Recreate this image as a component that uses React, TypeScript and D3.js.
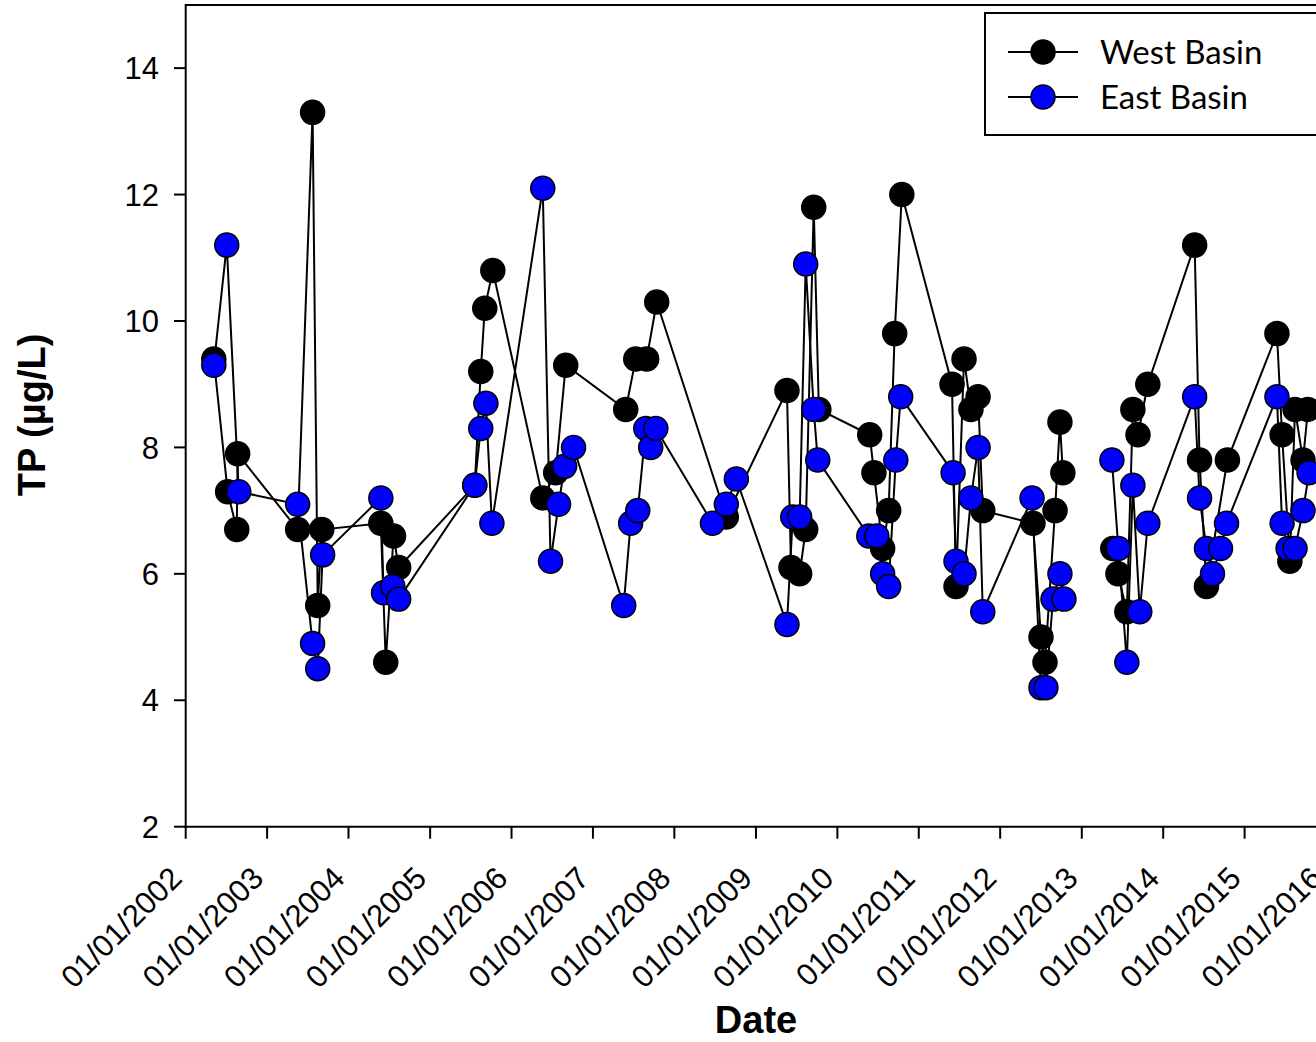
import { useRef, useEffect } from "react";
import * as d3 from "d3";

const westDates = [
  "2002-05-07", "2002-07-08", "2002-08-18", "2002-08-22",
  "2003-05-18", "2003-07-24", "2003-08-16", "2003-09-03",
  "2004-05-25", "2004-06-16", "2004-07-21", "2004-08-13",
  "2005-07-20", "2005-08-16", "2005-09-03", "2005-10-09",
  "2006-05-21", "2006-07-18", "2006-09-01",
  "2007-05-28", "2007-07-12", "2007-08-30", "2007-10-14",
  "2008-08-21",
  "2009-05-20", "2009-06-07", "2009-07-16", "2009-08-12", "2009-09-17", "2009-10-10",
  "2010-05-26", "2010-06-14", "2010-07-23", "2010-08-19", "2010-09-15", "2010-10-17",
  "2011-05-30", "2011-06-17", "2011-07-23", "2011-08-23", "2011-09-24", "2011-10-15",
  "2012-05-27", "2012-07-02", "2012-07-20", "2012-09-03", "2012-09-25", "2012-10-08",
  "2013-01-01",
  "2013-05-20", "2013-06-12", "2013-07-22", "2013-08-18", "2013-09-10", "2013-10-24",
  "2014-05-22", "2014-06-13", "2014-07-14", "2014-10-16",
  "2015-05-26", "2015-06-18", "2015-07-23", "2015-08-15", "2015-09-20", "2015-10-12",
];
const westValues = [
  9.4, 7.3, 6.7, 7.9,
  6.7, 13.3, 5.5, 6.7,
  6.8, 4.6, 6.6, 6.1,
  7.4, 9.2, 10.2, 10.8,
  7.2, 7.6, 9.3,
  8.6, 9.4, 9.4, 10.3,
  6.9,
  8.9, 6.1, 6.0, 6.7, 11.8, 8.6,
  8.2, 7.6, 6.4, 7.0, 9.8, 12.0,
  9.0, 5.8, 9.4, 8.6, 8.8, 7.0,
  6.8, 5.0, 4.6, 7.0, 8.4, 7.6,
  null,
  6.4, 6.0, 5.4, 8.6, 8.2, 9.0,
  11.2, 7.8, 5.8, 7.8,
  9.8, 8.2, 6.2, 8.6, 7.8, 8.6,
];

const eastDates = [
  "2002-05-07", "2002-07-04", "2002-08-27",
  "2003-05-18", "2003-07-24", "2003-08-16", "2003-09-07",
  "2004-05-25", "2004-06-06", "2004-07-18", "2004-08-13",
  "2005-07-20", "2005-08-16", "2005-09-08", "2005-10-05",
  "2006-05-21", "2006-06-25", "2006-07-31", "2006-08-27", "2006-10-06",
  "2007-05-19", "2007-06-19", "2007-07-21", "2007-08-26", "2007-09-17", "2007-10-10",
  "2008-06-20", "2008-08-21", "2008-10-05",
  "2009-05-20", "2009-06-15", "2009-07-16", "2009-08-12", "2009-09-17", "2009-10-05",
  "2010-05-22", "2010-06-27", "2010-07-23", "2010-08-19", "2010-09-20", "2010-10-12",
  "2011-06-04", "2011-06-17", "2011-07-23", "2011-08-23", "2011-09-24", "2011-10-15",
  "2012-05-23", "2012-07-02", "2012-07-24", "2012-08-25", "2012-09-25", "2012-10-13",
  "2013-01-01",
  "2013-05-16", "2013-06-14", "2013-07-22", "2013-08-18", "2013-09-18", "2013-10-24",
  "2014-05-22", "2014-06-13", "2014-07-14", "2014-08-10", "2014-09-15", "2014-10-12",
  "2015-05-26", "2015-06-18", "2015-07-15", "2015-08-15", "2015-09-20", "2015-10-17",
];
const eastValues = [
  9.3, 11.2, 7.3,
  7.1, 4.9, 4.5, 6.3,
  7.2, 5.7, 5.8, 5.6,
  7.4, 8.3, 8.7, 6.8,
  12.1, 6.2, 7.1, 7.7, 8.0,
  5.5, 6.8, 7.0, 8.3, 8.0, 8.3,
  6.8, 7.1, 7.5,
  5.2, 6.9, 6.9, 10.9, 8.6, 7.8,
  6.6, 6.6, 6.0, 5.8, 7.8, 8.8,
  7.6, 6.2, 6.0, 7.2, 8.0, 5.4,
  7.2, 4.2, 4.2, 5.6, 6.0, 5.6,
  null,
  7.8, 6.4, 4.6, 7.4, 5.4, 6.8,
  8.8, 7.2, 6.4, 6.0, 6.4, 6.8,
  8.8, 6.8, 6.4, 6.4, 7.0, 7.6,
];

const yTicks = [2, 4, 6, 8, 10, 12, 14];
const xTickYears = [2002, 2003, 2004, 2005, 2006, 2007, 2008, 2009, 2010, 2011, 2012, 2013, 2014, 2015, 2016];

const SERIES = [
  { name: "West Basin", dates: westDates, values: westValues, fill: "#000000" },
  { name: "East Basin", dates: eastDates, values: eastValues, fill: "#0000ff" },
];

const W = 1316;
const H = 1042;
const AXIS_FONT = "'Liberation Sans', Arial, sans-serif";

export default function App() {
  const svgRef = useRef<SVGSVGElement | null>(null);

  useEffect(() => {
    const parse = d3.timeParse("%Y-%m-%d");
    const svg = d3.select(svgRef.current);
    svg.selectAll("*").remove();

    const x = d3
      .scaleTime()
      .domain([new Date(2002, 0, 1), new Date(2016, 0, 1)])
      .range([185.7, 1326]);
    const y = d3.scaleLinear().domain([2, 15]).range([826.7, 4.9]);

    const xEnd = x(new Date(2016, 6, 1));

    // frame
    svg
      .append("path")
      .attr("d", `M${xEnd},${y(15)}H${x.range()[0]}V${y(2)}H${xEnd}`)
      .attr("fill", "none")
      .attr("stroke", "#000")
      .attr("stroke-width", 2);

    // y axis ticks + labels
    const yg = svg.append("g").attr("font-family", AXIS_FONT).attr("font-size", 31);
    yTicks.forEach((t) => {
      yg.append("line")
        .attr("x1", 174).attr("x2", 186)
        .attr("y1", y(t)).attr("y2", y(t))
        .attr("stroke", "#000").attr("stroke-width", 2);
      yg.append("text")
        .attr("x", 159).attr("y", y(t))
        .attr("dy", "0.36em")
        .attr("text-anchor", "end")
        .text(t);
    });

    // x axis ticks + labels
    const xg = svg.append("g").attr("font-family", AXIS_FONT).attr("font-size", 31);
    xTickYears.forEach((yr) => {
      const px = x(new Date(yr, 0, 1));
      xg.append("line")
        .attr("x1", px).attr("x2", px)
        .attr("y1", y(2)).attr("y2", y(2) + 12)
        .attr("stroke", "#000").attr("stroke-width", 2);
      xg.append("text")
        .attr("transform", `translate(${px - 2},${880}) rotate(-45)`)
        .attr("text-anchor", "end")
        .text(`01/01/${yr}`);
    });

    // titles
    svg.append("text")
      .attr("x", 756).attr("y", 1033)
      .attr("text-anchor", "middle")
      .attr("font-family", AXIS_FONT).attr("font-weight", "bold").attr("font-size", 38)
      .text("Date");
    svg.append("text")
      .attr("transform", `translate(45,415) rotate(-90)`)
      .attr("text-anchor", "middle")
      .attr("font-family", AXIS_FONT).attr("font-weight", "bold").attr("font-size", 38)
      .text("TP (µg/L)");

    // series
    const line = d3
      .line<{ d: Date; v: number | null }>()
      .defined((p) => p.v != null)
      .x((p) => x(p.d))
      .y((p) => y(p.v as number));

    SERIES.forEach((s) => {
      const pts = s.dates.map((d, i) => ({ d: parse(d) as Date, v: s.values[i] }));
      const g = svg.append("g");
      g.append("path")
        .attr("d", line(pts))
        .attr("fill", "none")
        .attr("stroke", "#000")
        .attr("stroke-width", 2);
      g.selectAll("circle")
        .data(pts.filter((p) => p.v != null))
        .enter()
        .append("circle")
        .attr("cx", (p) => x(p.d))
        .attr("cy", (p) => y(p.v as number))
        .attr("r", 12)
        .attr("fill", s.fill)
        .attr("stroke", "#000")
        .attr("stroke-width", 1.5);
    });

    // legend
    const lg = svg.append("g");
    lg.append("rect")
      .attr("x", 985).attr("y", 13)
      .attr("width", 400).attr("height", 122)
      .attr("fill", "#fff")
      .attr("stroke", "#000").attr("stroke-width", 2);
    SERIES.forEach((s, i) => {
      const cy = 52 + i * 45;
      lg.append("line")
        .attr("x1", 1008).attr("x2", 1078)
        .attr("y1", cy).attr("y2", cy)
        .attr("stroke", "#000").attr("stroke-width", 2);
      lg.append("circle")
        .attr("cx", 1043).attr("cy", cy).attr("r", 12)
        .attr("fill", s.fill).attr("stroke", "#000").attr("stroke-width", 1.5);
      lg.append("text")
        .attr("x", 1100).attr("y", cy)
        .attr("dy", "0.36em")
        .attr("font-family", "Lato, 'Open Sans', sans-serif")
        .attr("font-size", 33)
        .text(s.name);
    });
  }, []);

  return (
    <svg
      ref={svgRef}
      width={W}
      height={H}
      style={{ position: "absolute", left: 0, top: 0, background: "#fff", display: "block" }}
    />
  );
}
